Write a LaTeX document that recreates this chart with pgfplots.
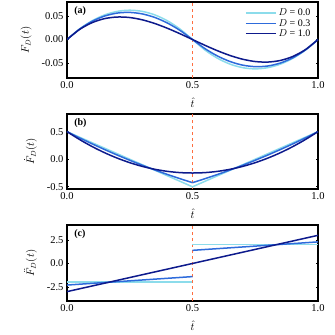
\documentclass[border=0pt]{standalone}
\usepackage{fontspec}
\setmainfont{Liberation Serif}
\usepackage{pgfplots}
\pgfplotsset{compat=1.18}

\definecolor{dzero}{HTML}{8CDCEB}
\definecolor{dthree}{HTML}{2E6BDB}
\definecolor{done}{HTML}{0D1A8C}
\definecolor{tline}{HTML}{FF6E40}

\pgfplotsset{
  panel/.style={
    scale only axis, width=251pt, xmin=0, xmax=1,
    xtick={0,0.5,1},
    axis line style={line width=1.6pt},
    tick align=inside, major tick length=2pt,
    tick style={black, line width=0.6pt},
    ticklabel style={font=\fontsize{10.5}{12}\selectfont},
    label style={font=\fontsize{10.5}{12}\selectfont},
    /pgf/number format/assume math mode=true,
    scaled y ticks=false,
    xticklabel style={/pgf/number format/.cd, fixed, fixed zerofill, precision=1, /tikz/.cd},
    xlabel={$\hat{t}$},
    xlabel style={yshift=-2.5pt},
    ylabel style={yshift=3pt},
  },
  curve/.style={line width=1.5pt},
  vline/.style={tline, dashed, line width=0.6pt, forget plot},
}

\begin{document}
\begin{tikzpicture}
\useasboundingbox (0,0) rectangle (335pt,-335pt);

% (a) F_D(t)
\begin{axis}[panel, at={(67pt,-2pt)}, anchor=north west, height=76pt,
  ymin=-0.082, ymax=0.08, ytick={-0.05,0,0.05},
  yticklabel style={/pgf/number format/.cd, fixed, fixed zerofill, precision=2, /tikz/.cd},
  ylabel={$F_D(t)$},
  legend style={draw=none, fill=none, at={(0.99,0.965)}, anchor=north east,
    font=\fontsize{10}{11}\selectfont, row sep=-2pt},
  legend image code/.code={\draw[line width=1.5pt, #1] (0cm,0cm) -- (1.05cm,0cm);},
]
\addplot[vline] coordinates {(0.5,-0.082)(0.5,0.08)};
\addplot[curve, dzero, smooth] coordinates {
(0,0)(0.05,0.0225)(0.1,0.04)(0.15,0.0525)(0.2,0.06)(0.25,0.0625)(0.3,0.06)(0.35,0.0525)(0.4,0.04)(0.45,0.0225)(0.5,0)
(0.55,-0.0225)(0.6,-0.04)(0.65,-0.0525)(0.7,-0.06)(0.75,-0.0625)(0.8,-0.06)(0.85,-0.0525)(0.9,-0.04)(0.95,-0.0225)(1,0)};
\addlegendentry{$D$ = 0.0}
\addplot[curve, dthree, smooth] coordinates {
(0,0)(0.05,0.0222)(0.1,0.0388)(0.15,0.0501)(0.2,0.0564)(0.25,0.0578)(0.3,0.0546)(0.35,0.0470)(0.4,0.0352)(0.45,0.0195)(0.5,0)
(0.55,-0.0195)(0.6,-0.0352)(0.65,-0.0470)(0.7,-0.0546)(0.75,-0.0578)(0.8,-0.0564)(0.85,-0.0501)(0.9,-0.0388)(0.95,-0.0222)(1,0)};
\addlegendentry{$D$ = 0.3}
\addplot[curve, done, smooth] coordinates {
(0,0)(0.05,0.0214)(0.1,0.036)(0.15,0.0446)(0.2,0.048)(0.25,0.0469)(0.3,0.042)(0.35,0.0341)(0.4,0.024)(0.45,0.0124)(0.5,0)
(0.55,-0.0124)(0.6,-0.024)(0.65,-0.0341)(0.7,-0.042)(0.75,-0.0469)(0.8,-0.048)(0.85,-0.0446)(0.9,-0.036)(0.95,-0.0214)(1,0)};
\addlegendentry{$D$ = 1.0}
\node[anchor=north west, font=\bfseries\fontsize{10}{12}\selectfont] at (rel axis cs:0.015,0.99) {(a)};
\end{axis}

% (b) first derivative
\begin{axis}[panel, at={(67pt,-114pt)}, anchor=north west, height=75pt,
  ymin=-0.54, ymax=0.82, ytick={-0.5,0,0.5},
  yticklabel style={/pgf/number format/.cd, fixed, fixed zerofill, precision=1, /tikz/.cd},
  ylabel={$\dot{F}_D(t)$},
]
\addplot[vline] coordinates {(0.5,-0.54)(0.5,0.82)};
\addplot[curve, dzero] coordinates {(0,0.5)(0.5,-0.5)(1,0.5)};
\addplot[curve, dthree, smooth] coordinates {
(0,0.5)(0.05,0.3873)(0.1,0.279)(0.15,0.1753)(0.2,0.076)(0.25,-0.0188)(0.3,-0.109)(0.35,-0.1948)(0.4,-0.276)(0.45,-0.3528)(0.5,-0.425)};
\addplot[curve, dthree, smooth] coordinates {
(0.5,-0.425)(0.55,-0.3528)(0.6,-0.276)(0.65,-0.1948)(0.7,-0.109)(0.75,-0.0188)(0.8,0.076)(0.85,0.1753)(0.9,0.279)(0.95,0.3873)(1,0.5)};
\addplot[curve, done, smooth] coordinates {
(0,0.5)(0.05,0.3575)(0.1,0.23)(0.15,0.1175)(0.2,0.02)(0.25,-0.0625)(0.3,-0.13)(0.35,-0.1825)(0.4,-0.22)(0.45,-0.2425)(0.5,-0.25)
(0.55,-0.2425)(0.6,-0.22)(0.65,-0.1825)(0.7,-0.13)(0.75,-0.0625)(0.8,0.02)(0.85,0.1175)(0.9,0.23)(0.95,0.3575)(1,0.5)};
\node[anchor=north west, font=\bfseries\fontsize{10}{12}\selectfont] at (rel axis cs:0.015,0.99) {(b)};
\end{axis}

% (c) second derivative
\begin{axis}[panel, at={(67pt,-225pt)}, anchor=north west, height=76pt,
  ymin=-4, ymax=4.1, ytick={-2.5,0,2.5},
  yticklabel style={/pgf/number format/.cd, fixed, fixed zerofill, precision=1, /tikz/.cd},
  ylabel={$\ddot{F}_D(t)$},
]
\addplot[vline] coordinates {(0.5,-4)(0.5,4.1)};
\addplot[curve, dzero] coordinates {(0,-2)(0.5,-2)};
\addplot[curve, dzero] coordinates {(0.5,2)(1,2)};
\addplot[curve, dthree] coordinates {(0,-2.3)(0.5,-1.4)};
\addplot[curve, dthree] coordinates {(0.5,1.4)(1,2.3)};
\addplot[curve, done] coordinates {(0,-3)(1,3)};
\node[anchor=north west, font=\bfseries\fontsize{10}{12}\selectfont] at (rel axis cs:0.015,0.99) {(c)};
\end{axis}
\end{tikzpicture}
\end{document}
